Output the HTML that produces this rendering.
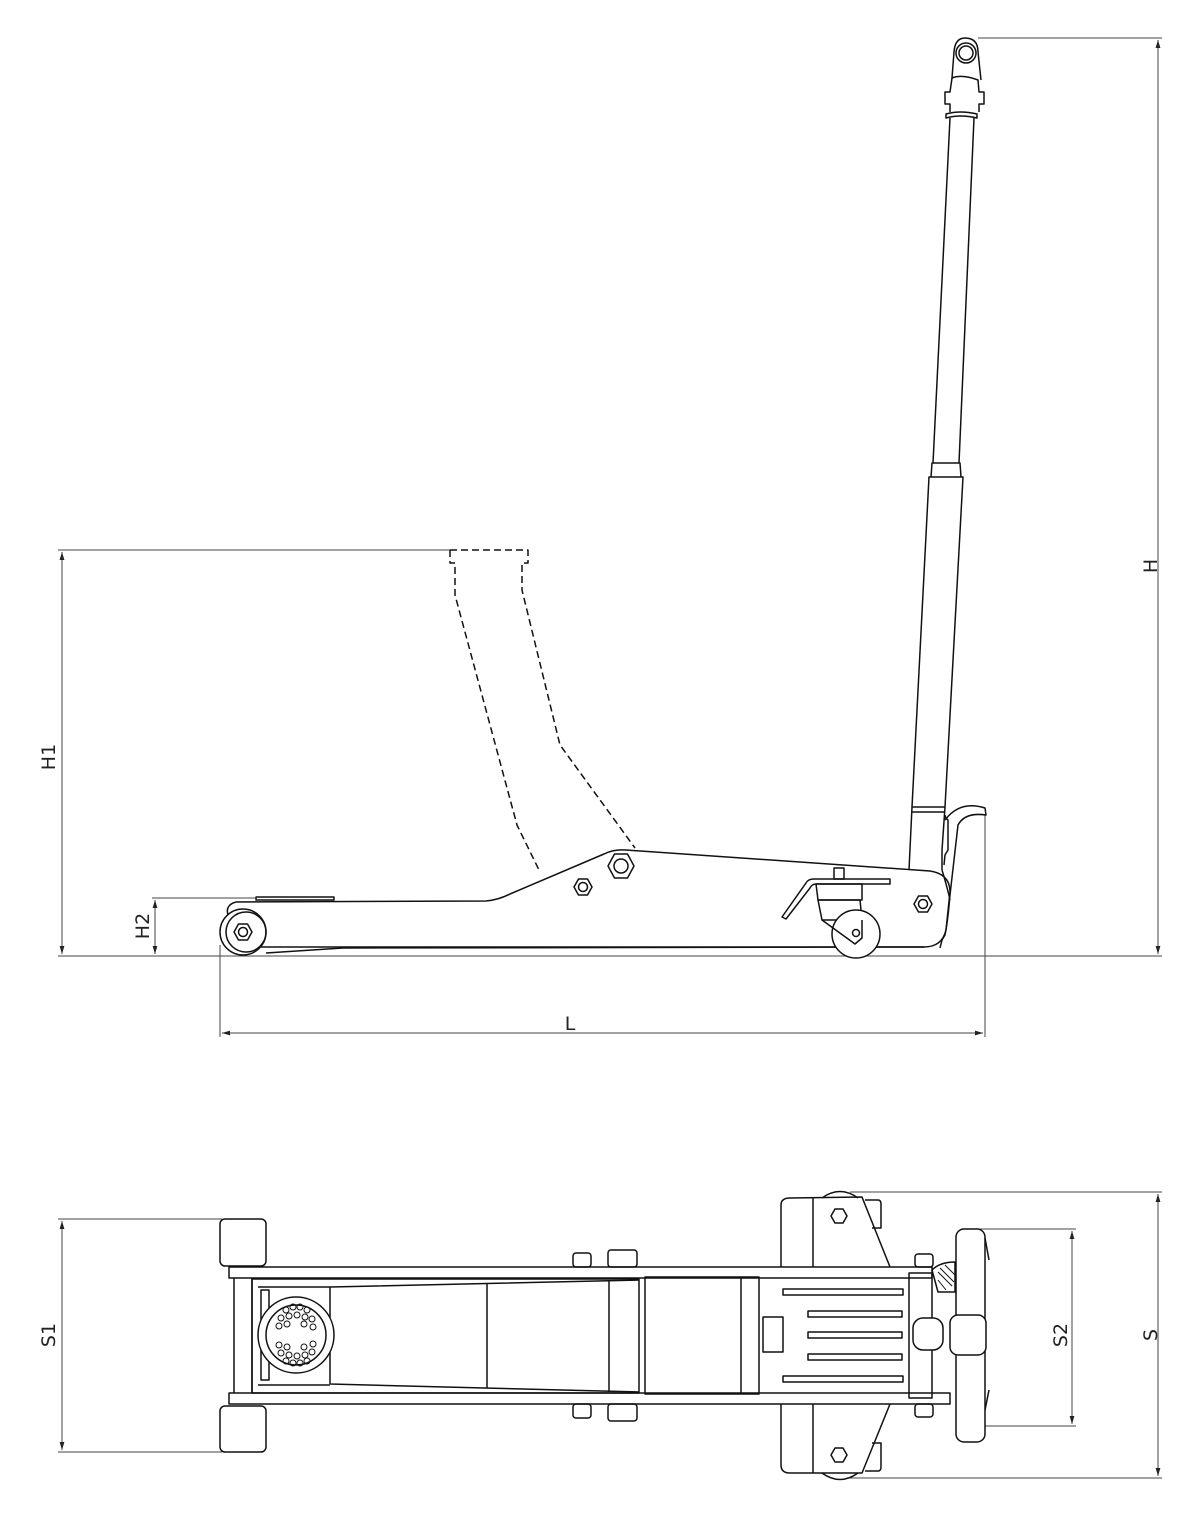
<!DOCTYPE html>
<html><head><meta charset="utf-8"><style>
html,body{margin:0;padding:0;background:#fff;}
svg{display:block;}
text{font-family:"DejaVu Sans","Liberation Sans",sans-serif;font-size:19px;fill:#222;font-weight:normal;}
</style></head><body>
<svg width="1200" height="1519" viewBox="0 0 1200 1519" xmlns="http://www.w3.org/2000/svg">
<defs>
<marker id="ar" viewBox="0 0 10 10" refX="10" refY="5" markerWidth="10" markerHeight="8" orient="auto-start-reverse" markerUnits="userSpaceOnUse"><path d="M0,2 L10,5 L0,8 z" fill="#222"/></marker>
</defs>
<g stroke="#444" stroke-width="1" fill="none">
<!-- dimension lines side view -->
<line x1="978" y1="38" x2="1162" y2="38"/>
<line x1="1158" y1="40" x2="1158" y2="954" marker-start="url(#ar)" marker-end="url(#ar)"/>
<line x1="58" y1="550" x2="450" y2="550"/>
<line x1="62" y1="552" x2="62" y2="954" marker-start="url(#ar)" marker-end="url(#ar)"/>
<line x1="58" y1="956" x2="1162" y2="956"/>
<line x1="152" y1="898" x2="255" y2="898"/>
<line x1="155" y1="900" x2="155" y2="954" marker-start="url(#ar)" marker-end="url(#ar)"/>
<line x1="220" y1="945" x2="220" y2="1037"/>
<line x1="985" y1="815" x2="985" y2="1037"/>
<line x1="222" y1="1033" x2="983" y2="1033" marker-start="url(#ar)" marker-end="url(#ar)"/>
<!-- dimension lines top view -->
<line x1="58" y1="1219" x2="222" y2="1219"/>
<line x1="58" y1="1452" x2="222" y2="1452"/>
<line x1="62" y1="1221" x2="62" y2="1450" marker-start="url(#ar)" marker-end="url(#ar)"/>
<line x1="850" y1="1192" x2="1162" y2="1192"/>
<line x1="850" y1="1478" x2="1162" y2="1478"/>
<line x1="1158" y1="1194" x2="1158" y2="1476" marker-start="url(#ar)" marker-end="url(#ar)"/>
<line x1="970" y1="1229" x2="1076" y2="1229"/>
<line x1="970" y1="1426" x2="1076" y2="1426"/>
<line x1="1072" y1="1231" x2="1072" y2="1424" marker-start="url(#ar)" marker-end="url(#ar)"/>
</g>
<text transform="translate(1157,566) rotate(-90)" text-anchor="middle">H</text>
<text transform="translate(55,757) rotate(-90)" text-anchor="middle">H1</text>
<text transform="translate(149,926) rotate(-90)" text-anchor="middle">H2</text>
<text x="570" y="1030" text-anchor="middle">L</text>
<text transform="translate(55,1335) rotate(-90)" text-anchor="middle">S1</text>
<text transform="translate(1067,1335) rotate(-90)" text-anchor="middle">S2</text>
<text transform="translate(1157,1335) rotate(-90)" text-anchor="middle">S</text>

<g stroke="#111" stroke-width="1.5" fill="none" stroke-linejoin="round">
<!-- dashed lifted saddle -->
<g stroke-dasharray="7,4">
<path d="M450,550 L528,550 L528,563 L522,563 L522,590 L560,745 L635,848"/>
<path d="M450,550 L450,563 L455,563 L455,595 L517,825 L540,872"/>
</g>
<!-- main chassis side -->
<path d="M236,902 L486,901 Q498,900 510,894 L604,854 Q614,849 626,850 L930,871 Q950,874 950,892 L946,930 Q942,947 924,947 L261,947"/>
<path d="M266,953 L343,948 L924,947"/>
<path d="M256,897 L334,897 L334,900 L256,900 Z"/>
<path d="M236,902 Q225,905 228,915"/>
<circle cx="243" cy="932" r="23" fill="#fff"/>
<circle cx="246" cy="932" r="20"/>
<polygon points="234,932 238.5,924 247.5,924 252,932 247.5,940 238.5,940" fill="#fff"/>
<circle cx="243" cy="932" r="4.5"/>
<polygon points="608,866 614.5,854 627.5,854 634,866 627.5,878 614.5,878"/>
<circle cx="621" cy="866" r="7"/>
<polygon points="574,887 578.5,879 587.5,879 592,887 587.5,895 578.5,895"/>
<circle cx="583" cy="887" r="4.5"/>
<polygon points="914,904 918.5,896 927.5,896 932,904 927.5,912 918.5,912"/>
<circle cx="923" cy="904" r="4.5"/>
<!-- caster -->
<path d="M782,917 L806,883 Q808,879 814,879 L890,879 L890,884 L816,884 Q812,884 810,888 L786,919 Z"/>
<rect x="834" y="868" width="10" height="11"/>
<path d="M816,884 L862,884 L862,900 L818,900 Z"/>
<path d="M818,900 L860,900 L862,920 L822,920 Z"/>
<circle cx="856" cy="934" r="24" fill="#fff"/>
<path d="M822,920 L855,944 L862,938 L862,920"/>
<circle cx="856" cy="933" r="3.5"/>
<!-- handle socket & hose -->
<path d="M912,807 L909,870 M945,807 L942,850 L942,870"/>
<path d="M945,815 Q945,818 948,820 L948,850 L945,855 L944,865 M942,870 Q948,890 950,900"/>
<path d="M945,820 Q960,800 985,808 L986,815 Q965,812 958,825 Q955,850 950,895 Q948,920 945,935 L942,940 L940,948"/>
<!-- handle -->
<path d="M912,807 L929,477 L963,477 L945,807 Z"/>
<path d="M912,812 L945,812"/>
<path d="M931,477 L932,463 L960,463 L961,477"/>
<path d="M933,463 L950,118 M959,463 L974,118"/>
<path d="M946,118 Q960,114 977,118 L977,114 Q960,110 946,114 Z"/>
<path d="M950,112 L950,104 L945,104 L945,92 L950,92 L952,78 Q962,74 978,80 L979,92 L984,92 L984,104 L979,104 L979,112"/>
<path d="M952,78 L954,52 Q955,38 965,38 Q978,38 978,52 L981,80"/>
<circle cx="966" cy="53" r="10"/>
<circle cx="966" cy="53" r="7"/>

<!-- TOP VIEW -->
<rect x="220" y="1219" width="46" height="47" rx="5" fill="#fff"/>
<rect x="220" y="1406" width="46" height="46" rx="5" fill="#fff"/>
<rect x="229" y="1267" width="703" height="11"/>
<rect x="229" y="1393" width="721" height="11"/>
<line x1="234" y1="1278" x2="234" y2="1393"/>
<line x1="252" y1="1278" x2="252" y2="1393"/>
<rect x="252" y="1279" width="387" height="114"/>
<line x1="258" y1="1287" x2="330" y2="1287"/>
<line x1="258" y1="1385" x2="330" y2="1385"/>
<path d="M330,1287 L639,1280 M330,1384 L639,1392 M330,1287 L330,1384"/>
<line x1="487" y1="1284" x2="487" y2="1388"/>
<line x1="609" y1="1280" x2="609" y2="1392"/>
<rect x="261" y="1290" width="8" height="90"/>
<circle cx="296" cy="1335" r="38" fill="#fff"/>
<circle cx="296" cy="1335" r="30"/>
<g stroke-width="1">
<circle cx="286" cy="1310" r="3"/><circle cx="293" cy="1307" r="3"/><circle cx="300" cy="1307" r="3"/><circle cx="307" cy="1310" r="3"/>
<circle cx="281" cy="1318" r="3"/><circle cx="289" cy="1316" r="3"/><circle cx="297" cy="1315" r="3"/><circle cx="305" cy="1317" r="3"/><circle cx="312" cy="1319" r="3"/>
<circle cx="279" cy="1326" r="3"/><circle cx="287" cy="1324" r="3"/><circle cx="304" cy="1324" r="3"/><circle cx="313" cy="1327" r="3"/>
<circle cx="279" cy="1345" r="3"/><circle cx="287" cy="1347" r="3"/><circle cx="304" cy="1347" r="3"/><circle cx="313" cy="1344" r="3"/>
<circle cx="281" cy="1353" r="3"/><circle cx="289" cy="1355" r="3"/><circle cx="297" cy="1356" r="3"/><circle cx="305" cy="1355" r="3"/><circle cx="312" cy="1352" r="3"/>
<circle cx="286" cy="1361" r="3"/><circle cx="293" cy="1363" r="3"/><circle cx="300" cy="1363" r="3"/><circle cx="307" cy="1361" r="3"/>
</g>
<rect x="645" y="1277" width="114" height="117"/>
<line x1="741" y1="1278" x2="741" y2="1393"/>
<rect x="783" y="1289" width="120" height="6"/>
<rect x="808" y="1311" width="94" height="6"/>
<rect x="808" y="1332" width="94" height="6"/>
<rect x="808" y="1354" width="94" height="6"/>
<rect x="783" y="1376" width="120" height="6"/>
<rect x="763" y="1317" width="20" height="35"/>
<!-- rear chassis -->
<path d="M781,1267 L781,1205 Q781,1198 790,1198 L862,1197 L890,1267"/>
<path d="M781,1404 L781,1465 Q781,1473 790,1473 L862,1473 L890,1404"/>
<line x1="813" y1="1198" x2="813" y2="1267"/>
<line x1="813" y1="1404" x2="813" y2="1473"/>
<path d="M822,1198 Q840,1185 858,1198"/>
<path d="M822,1473 Q840,1486 858,1473"/>
<path d="M865,1200 L878,1200 Q881,1200 881,1204 L881,1228 L872,1228"/>
<path d="M865,1471 L878,1471 Q881,1471 881,1467 L881,1443 L872,1443"/>
<polygon points="831,1216 835,1209 843,1209 847,1216 843,1223 835,1223"/>
<polygon points="831,1455 835,1448 843,1448 847,1455 843,1462 835,1462"/>
<!-- nuts top view -->
<rect x="573" y="1253" width="18" height="14" rx="3"/>
<rect x="608" y="1250" width="29" height="17" rx="3"/>
<rect x="573" y="1404" width="18" height="14" rx="3"/>
<rect x="608" y="1404" width="29" height="17" rx="3"/>
<rect x="915" y="1254" width="18" height="13" rx="3"/>
<rect x="915" y="1404" width="18" height="13" rx="3"/>
<!-- handle socket top view -->
<rect x="909" y="1273" width="23" height="125"/>
<path d="M932,1270 Q940,1262 955,1262 L955,1292 L938,1292 Z"/>
<g stroke-width="1"><line x1="938" y1="1272" x2="952" y2="1286"/><line x1="940" y1="1268" x2="954" y2="1282"/><line x1="945" y1="1265" x2="955" y2="1275"/><line x1="938" y1="1280" x2="946" y2="1290"/></g>
<rect x="956" y="1229" width="29" height="213" rx="8" fill="#fff"/>
<rect x="913" y="1318" width="30" height="32" rx="10" fill="#fff"/>
<rect x="950" y="1315" width="36" height="40" rx="8" fill="#fff"/>
<line x1="985" y1="1238" x2="989" y2="1260"/>
<line x1="985" y1="1410" x2="989" y2="1390"/>
</g>
</svg>
</body></html>
